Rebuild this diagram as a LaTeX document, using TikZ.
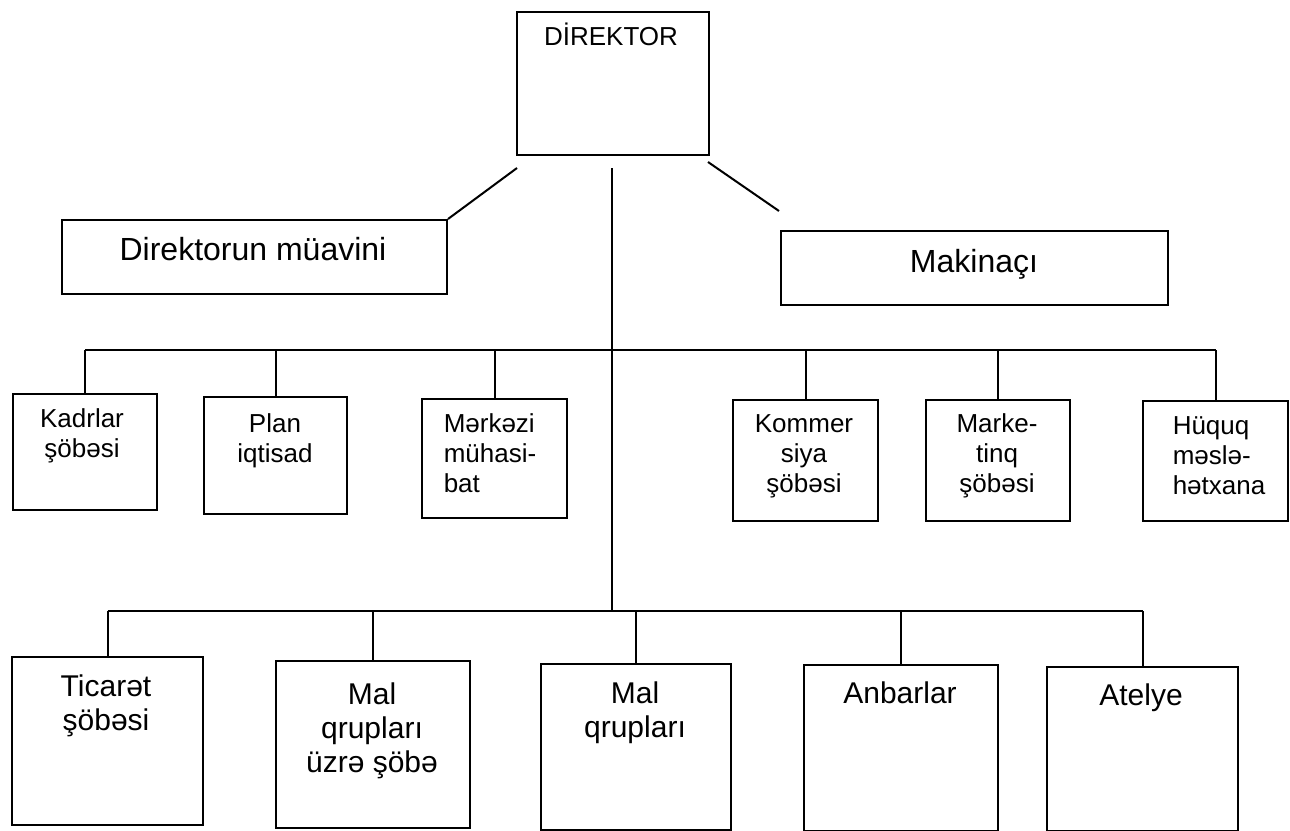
\documentclass[tikz,border=0pt]{standalone}
\usepackage{fontspec}
\setmainfont{Liberation Sans}
\begin{document}
\begin{tikzpicture}[x=1pt,y=-1pt,
  box/.style={draw, line width=2pt, rectangle, inner sep=0pt, anchor=north west},
  wire/.style={line width=2pt},
  % multi-line labels are placed by the baseline of their last line
  txt/.style={inner sep=0pt, anchor=base, align=center},
  small/.style={txt, font=\fontsize{26}{30}\selectfont},
  mid/.style={txt, font=\fontsize{32}{36}\selectfont},
  large/.style={txt, font=\fontsize{30}{34}\selectfont}
]
\useasboundingbox (0,0) rectangle (1290,830);

% top level
\node[box, minimum width=192pt, minimum height=143pt] (dir) at (516,11) {};
\node[small] (tdir) at (611,45) {DİREKTOR};

\node[box, minimum width=385pt, minimum height=74pt] (dep) at (61,219) {};
\node[mid] (tdep) at (253,260) {Direktorun müavini};

\node[box, minimum width=387pt, minimum height=74pt] (mak) at (780,230) {};
\node[mid] (tmak) at (974,272) {Makinaçı};

% departments
\node[box, minimum width=144pt, minimum height=116pt] (m1) at (12,393) {};
\node[box, minimum width=143pt, minimum height=117pt] (m2) at (203,396) {};
\node[box, minimum width=145pt, minimum height=119pt] (m3) at (421,398) {};
\node[box, minimum width=145pt, minimum height=121pt] (m4) at (732,399) {};
\node[box, minimum width=144pt, minimum height=121pt] (m5) at (925,399) {};
\node[box, minimum width=145pt, minimum height=120pt] (m6) at (1142,400) {};

\node[small] (tm1) at (82,457) {Kadrlar\\şöbəsi};
\node[small] (tm2) at (275,462) {Plan\\iqtisad};
\node[small, align=left] (tm3) at (490,492) {Mərkəzi\\mühasi-\\bat};
\node[small] (tm4) at (804,492) {Kommer\\siya\\şöbəsi};
\node[small] (tm5) at (997,492) {Marke-\\tinq\\şöbəsi};
\node[small, align=left] (tm6) at (1219,494) {Hüquq\\məslə-\\hətxana};

% trade units
\node[box, minimum width=191pt, minimum height=168pt] (b1) at (11,656) {};
\node[box, minimum width=194pt, minimum height=167pt] (b2) at (275,660) {};
\node[box, minimum width=190pt, minimum height=166pt] (b3) at (540,663) {};
\node[box, minimum width=194pt, minimum height=166pt] (b4) at (803,664) {};
\node[box, minimum width=191pt, minimum height=164pt] (b5) at (1046,666) {};

\node[large] (tb1) at (106,730) {Ticarət\\şöbəsi};
\node[large] (tb2) at (372,772) {Mal\\qrupları\\üzrə şöbə};
\node[large] (tb3) at (635,737) {Mal\\qrupları};
\node[large] (tb4) at (900,703) {Anbarlar};
\node[large] (tb5) at (1141,705) {Atelye};

% connectors
\coordinate (stemtop) at (612,168);
\coordinate (midbus) at (612,350);
\coordinate (lowbus) at (612,611);
\coordinate (dl) at (517,168);
\coordinate (dr) at (708,162);
\coordinate (mk) at (779,211);

\draw[wire] (stemtop) -- (lowbus);
\draw[wire] (dl) -- (dep.north east);
\draw[wire] (dr) -- (mk);

\draw[wire] (m1.north |- midbus) -- (m6.north |- midbus);
\foreach \n in {m1,m2,m3,m4,m5,m6}
  \draw[wire] (\n.north) -- (\n.north |- midbus);

\draw[wire] (b1.north |- lowbus) -- (b5.north |- lowbus);
\foreach \n in {b1,b2,b3,b4,b5}
  \draw[wire] (\n.north) -- (\n.north |- lowbus);
\end{tikzpicture}
\end{document}
